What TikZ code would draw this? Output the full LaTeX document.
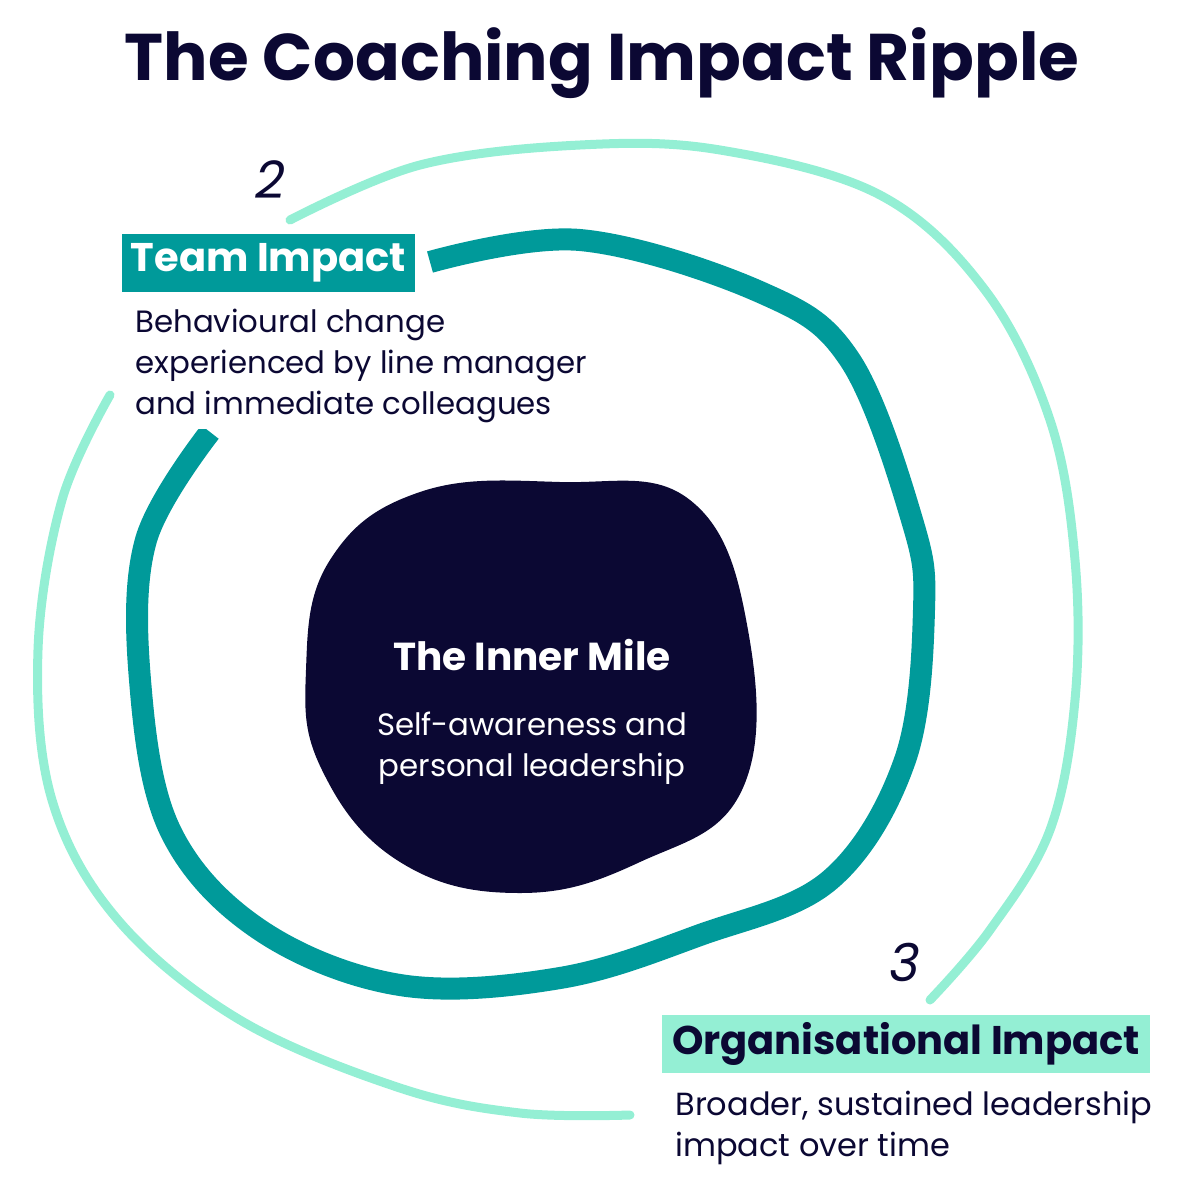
\documentclass[tikz,border=0pt]{standalone}
\usepackage{fontspec}
\setmainfont{Poppins}
\begin{document}
\definecolor{navy}{HTML}{0B0833}
\definecolor{teal1}{HTML}{009A9A}
\definecolor{mint}{HTML}{94EFD4}
\begin{tikzpicture}[x=0.5pt,y=-0.5pt,
  body/.style={text=navy,font=\fontsize{15.4}{20.5}\selectfont,align=left,anchor=north west,inner sep=0pt},
  num/.style={text=navy,font=\fontsize{26}{26}\selectfont\itshape}]
\useasboundingbox (0,0) rectangle (1200,1200);
\node[text=navy,font=\fontsize{33}{33}\selectfont\bfseries] (title) at (602,63) {The Coaching Impact Ripple};
% light ring
\draw[mint,line width=4.5pt,line cap=round] plot[smooth,tension=0.6] coordinates {(290,220)(420,165)(580,145)(720,150)(880,195)(985,290)(1050,420)(1075,560)(1075,700)(1050,830)(990,930)(930,1000)};
\draw[mint,line width=4.5pt,line cap=round] plot[smooth,tension=0.6] coordinates {(110,395)(62,500)(38,650)(52,800)(118,920)(240,1020)(400,1088)(520,1113)(630,1115)};
% teal ring
\draw[teal1,line width=11pt] plot[smooth,tension=0.6] coordinates {(430,262)(580,240)(760,292)(850,360)(912,520)(924,610)(905,760)(830,880)(700,935)(560,978)(400,985)(260,930)(170,830)(140,680)(146,540)(210,432)};
% blob
\fill[navy] plot[smooth cycle,tension=0.7] coordinates {(330,560)(420,492)(560,482)(690,500)(748,630)(742,790)(640,862)(520,893)(400,862)(322,770)(306,670)};
\node[text=white,font=\fontsize{19.5}{19.5}\selectfont\bfseries] (inner) at (532,655) {The Inner Mile};
\node[text=white,font=\fontsize{15.4}{20.5}\selectfont,align=center] (innertxt) at (532,748) {Self-awareness and\\personal leadership};
\node[num] (n1) at (540,560) {1};
\node[num] (n2) at (270,180) {2};
\node[num] (n3) at (905,962) {3};
% team
\node[fill=teal1,text=white,font=\fontsize{20}{20}\selectfont\bfseries,minimum width=146.5pt,minimum height=29pt,inner sep=0pt] (team) at (268.5,263) {Team Impact};
\node[body,fill=white,inner sep=3pt] (teamtxt) at (129,303) {Behavioural change\\experienced by line manager\\and immediate colleagues};
% org
\node[fill=mint,text=navy,font=\fontsize{20}{20}\selectfont\bfseries,minimum width=244pt,minimum height=29pt,inner sep=0pt] (org) at (906,1044) {Organisational Impact};
\node[body,fill=white,inner sep=3pt,font=\fontsize{16}{20.5}\selectfont] (orgtxt) at (669,1085) {Broader, sustained leadership\\impact over time};
\end{tikzpicture}
\end{document}
